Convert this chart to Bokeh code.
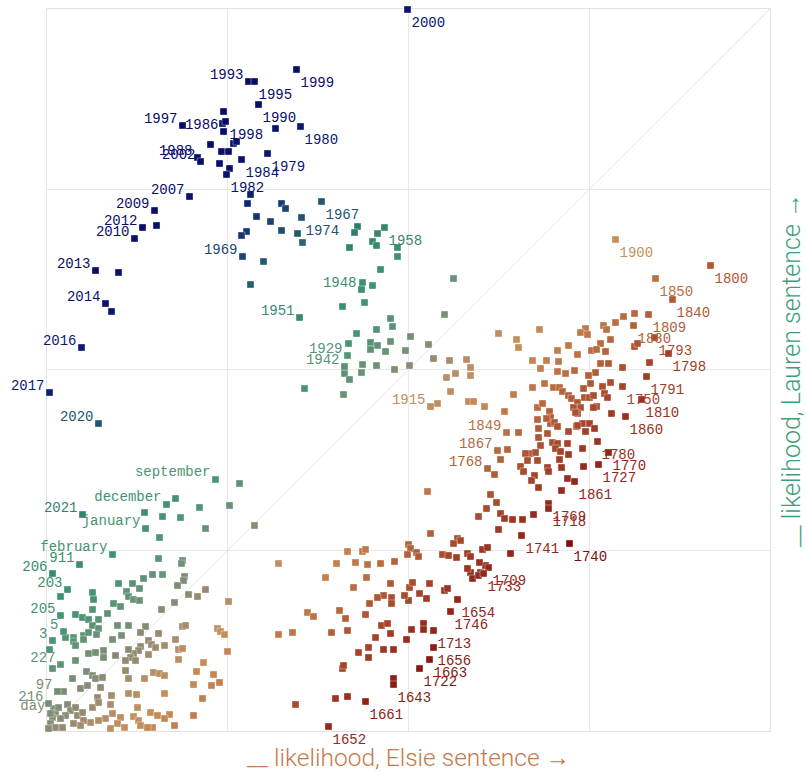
import numpy as np
from bokeh.plotting import figure
from bokeh.models import (ColumnDataSource, LinearColorMapper, LabelSet, Label, Range1d)
from bokeh.core.properties import value
from bokeh.embed import file_html
from bokeh.resources import INLINE

# ---------------- data (x = Elsie-sentence likelihood, y = Lauren-sentence likelihood) ----------------
x_extent = [0, 724]
y_extent = [0, 723]
grid_x = [181, 362, 543]
grid_y = [181, 362, 542]

# labelled points, group 1
lab1_text = ["2000", "1999", "1993", "1995", "1990", "1980", "1997", "1986", "1998", "1988",
             "2002", "1984", "1979", "1982", "2007", "2009", "2012", "2010", "2013", "2014",
             "2016", "2017", "2020", "1967", "1974", "1969", "1958", "1948", "1951", "1929",
             "1942", "1915", "september", "december", "2021", "january", "february", "911", "206", "203",
             "205", "5", "3", "227", "97", "216", "day"]
lab1_x = [361, 250, 202, 208, 212, 254, 136, 177, 179, 151,
          154, 195, 221, 180, 143, 108, 96, 88, 49, 59,
          35, 3, 52, 275, 255, 196, 338, 315, 253, 301,
          298, 384, 169, 120, 36, 99, 66, 33, 6, 21,
          14, 17, 6, 14, 11, 2, 4]
lab1_y = [722, 662, 650, 650, 627, 605, 606, 600, 610, 574,
          570, 572, 578, 557, 535, 521, 504, 493, 461, 428,
          384, 339, 308, 530, 514, 475, 504, 442, 414, 376,
          365, 325, 252, 227, 217, 203, 177, 167, 158, 142,
          116, 100, 91, 67, 40, 28, 18]
lab1_side = ["R", "R", "L", "R", "R", "R", "L", "L", "R", "L",
             "L", "R", "R", "R", "L", "L", "L", "L", "L", "L",
             "L", "L", "L", "R", "R", "L", "R", "L", "L", "L",
             "L", "L", "L", "L", "L", "L", "L", "L", "L", "L",
             "L", "L", "L", "L", "L", "L", "L"]

# labelled points, group 2
lab2_text = ["1900", "1800", "1850", "1840", "1809", "1830", "1793", "1798", "1791", "1750",
             "1810", "1860", "1780", "1770", "1727", "1861", "1769", "1718", "1741", "1740",
             "1849", "1867", "1768", "1709", "1733", "1654", "1746", "1713", "1656", "1663",
             "1722", "1643", "1661", "1652"]
lab2_x = [569, 664, 609, 626, 602, 587, 608, 622, 600, 576,
          595, 579, 551, 562, 552, 528, 502, 502, 475, 523,
          460, 451, 441, 442, 437, 411, 404, 387, 387, 383,
          373, 347, 319, 282]
lab2_y = [492, 466, 453, 432, 417, 406, 394, 378, 355, 345,
          332, 315, 290, 279, 267, 250, 228, 223, 196, 188,
          299, 281, 263, 164, 158, 132, 120, 101, 84, 72,
          63, 47, 30, 5]
lab2_side = ["R", "R", "R", "R", "R", "R", "R", "R", "R", "R",
             "R", "R", "R", "R", "R", "R", "R", "R", "R", "R",
             "L", "L", "L", "R", "R", "R", "R", "R", "R", "R",
             "R", "R", "R", "R"]

# unlabelled points
navy_x = [177, 176, 229, 187, 190, 164, 175, 182, 173, 183, 204, 201, 110, 210, 224, 235, 239, 251,
          200, 195, 235, 256, 217, 204, 72, 65]
navy_y = [620, 608, 603, 588, 590, 587, 580, 580, 568, 563, 537, 528, 506, 515, 510, 528, 523, 498,
          500, 496, 501, 489, 470, 447, 459, 420]

green_x = [311, 308, 303, 331, 326, 330, 351, 351, 334, 407, 316, 326, 318, 296, 398, 344, 346, 330,
           310, 302, 324, 331, 344, 324, 339, 359, 364, 382, 316, 330, 348, 363, 387, 403, 420, 298,
           303, 315, 400, 409, 424, 404, 258, 297, 391, 422, 427, 438]
green_y = [505, 499, 484, 498, 490, 486, 484, 475, 462, 453, 449, 446, 429, 425, 417, 413, 405, 402,
           398, 388, 389, 386, 390, 382, 380, 381, 395, 387, 367, 366, 362, 366, 373, 371, 372, 358,
           352, 359, 354, 358, 364, 340, 343, 337, 328, 330, 330, 325]

elsie_hi_x = [588, 577, 569, 557, 560, 564, 539, 534, 541, 588, 591, 603, 493, 452, 470, 472, 522, 511,
              531, 554, 545, 550, 559, 486, 500, 512, 494, 554, 562, 576, 511, 519, 528, 549, 542, 424,
              486, 498, 507, 513, 516, 544, 537, 556, 564, 558, 561, 522, 525, 531, 534, 527, 531, 538,
              543, 547, 467, 458, 491, 496]
elsie_hi_y = [418, 415, 409, 406, 402, 392, 403, 399, 397, 385, 388, 369, 402, 398, 392, 384, 386, 381,
              377, 388, 381, 382, 380, 371, 371, 370, 363, 368, 368, 364, 360, 358, 361, 359, 356, 356,
              344, 348, 344, 344, 340, 348, 343, 345, 349, 338, 334, 336, 333, 329, 324, 324, 318, 334,
              334, 336, 337, 320, 324, 328]

elsie_mid_x = [503, 550, 565, 491, 504, 504, 508, 511, 492, 501, 522, 530, 536, 543, 548, 539, 472, 492,
               506, 511, 521, 494, 461, 484, 479, 489, 509, 514, 522, 536, 537, 513, 515, 501, 502, 491,
               488, 485, 492, 474, 477, 481, 454, 448, 521, 515, 381, 444, 450, 440, 432, 454, 458, 466,
               476, 487, 452, 464, 500, 531, 529, 547]
elsie_mid_y = [320, 325, 318, 312, 314, 308, 309, 305, 303, 298, 300, 305, 308, 308, 303, 300, 299, 294,
               289, 288, 288, 286, 282, 278, 278, 279, 283, 280, 277, 283, 265, 272, 264, 264, 260, 271,
               256, 251, 244, 265, 260, 271, 272, 257, 253, 241, 240, 237, 229, 223, 215, 218, 213, 212,
               212, 217, 202, 178, 313, 306, 319, 324]

elsie_lo_x = [384, 411, 414, 407, 436, 441, 362, 364, 361, 370, 372, 396, 402, 410, 421, 424, 348, 334,
              321, 309, 301, 316, 319, 290, 279, 320, 344, 363, 366, 383, 373, 380, 362, 358, 345, 345,
              337, 331, 323, 307, 293, 299, 319, 301, 285, 261, 267, 246, 335, 341, 344, 329, 322, 312,
              322, 337, 347, 360, 365, 377, 377, 398, 401, 347, 296, 297, 289, 301, 249, 424, 421, 434,
              439, 433, 426, 432, 232, 232, 182, 181]
elsie_lo_y = [198, 193, 191, 188, 182, 184, 187, 183, 177, 179, 175, 177, 176, 174, 178, 175, 170, 168,
              167, 169, 180, 180, 182, 168, 154, 154, 148, 144, 149, 148, 138, 133, 131, 136, 134, 128,
              136, 134, 128, 144, 121, 113, 117, 101, 99, 119, 115, 99, 106, 108, 98, 94, 84, 79,
              74, 82, 82, 92, 102, 108, 102, 141, 143, 53, 63, 66, 33, 35, 27, 159, 163, 159,
              166, 169, 153, 156, 168, 97, 130, 80]

corner_hi_x = [193, 129, 153, 183, 98, 116, 134, 159, 208, 113, 112, 136, 135, 106, 116, 138, 137, 97,
               131, 151, 159, 142, 128, 115, 72, 86, 93, 80, 82, 87, 93, 46, 47, 67, 74, 14,
               46, 29, 36, 42, 52, 61, 46, 52, 71, 82, 99, 136, 139, 171, 174, 178]
corner_hi_y = [248, 233, 224, 226, 219, 215, 214, 203, 206, 194, 173, 171, 168, 157, 157, 155, 151, 153,
               146, 135, 142, 137, 129, 122, 148, 148, 143, 140, 135, 132, 131, 139, 132, 128, 125, 135,
               122, 117, 114, 112, 112, 118, 106, 103, 106, 106, 105, 105, 106, 103, 100, 97]

corner_lo_x = [19, 27, 27, 37, 37, 42, 50, 3, 29, 42, 49, 57, 66, 75, 94, 112, 129, 102, 105, 94,
               92, 87, 82, 84, 102, 109, 118, 132, 136, 132, 157, 69, 79, 79, 89, 57, 29, 6, 40, 46,
               49, 56, 82, 98, 107, 113, 118, 150, 167, 147, 173, 165, 26, 17, 34, 41, 54, 51, 65, 82,
               90, 118, 156, 7, 9, 12, 21, 24, 29, 31, 36, 46, 52, 64, 66, 74, 59, 71, 64, 52,
               44, 37, 34, 27, 19, 14, 6, 4, 9, 16, 2, 91, 87, 92, 94, 104, 111, 123, 118, 128,
               106, 147, 101, 78]
corner_lo_y = [94, 94, 90, 96, 92, 99, 97, 82, 86, 78, 79, 81, 92, 96, 99, 98, 92, 91, 87, 85,
               81, 78, 82, 74, 77, 84, 86, 82, 83, 72, 69, 76, 71, 61, 71, 74, 71, 63, 60, 56,
               53, 54, 53, 53, 59, 58, 56, 60, 57, 47, 49, 46, 53, 40, 43, 46, 44, 34, 36, 38,
               37, 38, 33, 23, 18, 24, 27, 21, 24, 16, 19, 24, 29, 27, 18, 14, 13, 8, 3, 11,
               9, 11, 6, 8, 16, 13, 14, 8, 4, 4, 3, 24, 15, 11, 6, 19, 16, 17, 13, 6,
               4, 16, 4, 4]

# colour stops: difference (Lauren - Elsie) -> colour
diff_stops = [-360, -320, -280, -240, -200, -160, -120, -80, -45, -15, 10, 40, 80, 130, 180, 215, 250, 285, 320, 360, 420]
color_stops = ["#740808", "#841410", "#92281c", "#a24028", "#af5634", "#bb6f42", "#c38250", "#c68f5a",
               "#b48e66", "#968a70", "#828c76", "#6a9276", "#4c9576", "#3b9070", "#34836e", "#2d7070",
               "#245a72", "#1c4274", "#102a72", "#0a156c", "#080c68"]


def build_palette(ds, cs, n=256):
    ds = np.array(ds, float)
    rgb = np.array([[int(c[i:i + 2], 16) for i in (1, 3, 5)] for c in cs], float)
    out = []
    for v in np.linspace(ds[0], ds[-1], n):
        r, g, b = (int(round(np.interp(v, ds, rgb[:, k]))) for k in range(3))
        out.append("#%02x%02x%02x" % (r, g, b))
    return out


mapper = LinearColorMapper(palette=build_palette(diff_stops, color_stops),
                           low=diff_stops[0], high=diff_stops[-1])

all_x = np.array(navy_x + green_x + elsie_hi_x + elsie_mid_x + elsie_lo_x + corner_hi_x + corner_lo_x
                 + lab1_x + lab2_x, float)
all_y = np.array(navy_y + green_y + elsie_hi_y + elsie_mid_y + elsie_lo_y + corner_hi_y + corner_lo_y
                 + lab1_y + lab2_y, float)
pts = ColumnDataSource(dict(x=all_x, y=all_y, d=all_y - all_x))

# margins around the plotting square (screen px == data units here)
m_left, m_right, m_top, m_bottom = 46, 36, 8, 41
W = m_left + (x_extent[1] - x_extent[0]) + m_right
H = m_top + (y_extent[1] - y_extent[0]) + m_bottom

p = figure(width=W, height=H, output_backend="svg", toolbar_location=None,
           x_range=Range1d(x_extent[0] - m_left, x_extent[1] + m_right),
           y_range=Range1d(y_extent[0] - m_bottom, y_extent[1] + m_top),
           x_axis_location=None, y_axis_location=None,
           min_border_left=0, min_border_right=0, min_border_top=0, min_border_bottom=0)
p.background_fill_color = "white"
p.border_fill_color = "white"
p.outline_line_color = None
p.grid.visible = False

grid_col = "#e8e8e8"
p.segment(x0=grid_x, x1=grid_x, y0=[y_extent[0]] * len(grid_x), y1=[y_extent[1]] * len(grid_x),
          line_color=grid_col, line_width=1)
p.segment(x0=[x_extent[0]] * len(grid_y), x1=[x_extent[1]] * len(grid_y), y0=grid_y, y1=grid_y,
          line_color=grid_col, line_width=1)
p.line(x=x_extent, y=y_extent, line_color="#e2e2e2", line_width=1)
p.quad(left=[x_extent[0]], right=[x_extent[1]], bottom=[y_extent[0]], top=[y_extent[1]],
       fill_color=None, line_color="#e3e3e3", line_width=1)

p.scatter("x", "y", source=pts, marker="square", size=7,
          fill_color={"field": "d", "transform": mapper},
          line_color="white", line_alpha=0.45, line_width=0.8)

lx = np.array(lab1_x + lab2_x, float)
ly = np.array(lab1_y + lab2_y, float)
lt = lab1_text + lab2_text
ls = lab1_side + lab2_side

for side, xo, yo, align in (("L", -5, 8, "right"), ("R", 4, -12, "left")):
    idx = [i for i, s in enumerate(ls) if s == side]
    src = ColumnDataSource(dict(x=lx[idx], y=ly[idx], t=[lt[i] for i in idx], d=ly[idx] - lx[idx]))
    p.add_layout(LabelSet(x="x", y="y", text="t", source=src, x_offset=xo, y_offset=yo,
                          text_align=align, text_baseline="middle",
                          text_font=value("Liberation Mono"), text_font_size="14px",
                          text_color={"field": "d", "transform": mapper}))

axis_font = "Roboto Light, Roboto"
p.add_layout(Label(x=(x_extent[0] + x_extent[1]) / 2, y=y_extent[0], y_offset=-26,
                   text="__ likelihood, Elsie sentence \u2192", text_align="center",
                   text_baseline="middle", text_font=axis_font, text_font_size="24.5px",
                   text_color="#c47a4a"))
p.add_layout(Label(x=x_extent[1], y=(y_extent[0] + y_extent[1]) / 2, x_offset=21,
                   angle=90, angle_units="deg",
                   text="__ likelihood, Lauren sentence \u2192", text_align="center",
                   text_baseline="middle", text_font=axis_font, text_font_size="25px",
                   text_color="#3f9e7a"))

open("out.html", "w").write(file_html(p, INLINE))
